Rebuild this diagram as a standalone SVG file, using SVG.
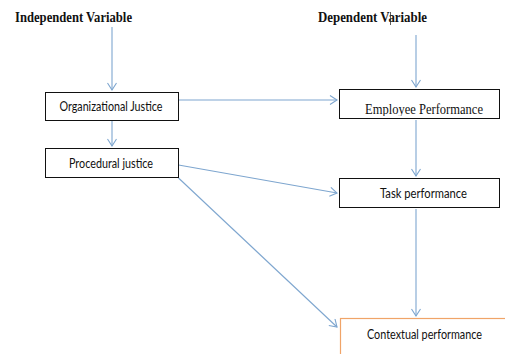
<svg xmlns="http://www.w3.org/2000/svg" width="505" height="354" viewBox="0 0 505 354">
  <defs>
    <marker id="arrow" viewBox="-8 -5 10 10" markerWidth="10" markerHeight="10" refX="0" refY="0" orient="auto" markerUnits="userSpaceOnUse">
      <path d="M-7,-4.5 L0,0 L-7,4.5" fill="none" stroke="#7ea6cf" stroke-width="1.1"/>
    </marker>
    <clipPath id="clipEmp">
      <rect x="339" y="89" width="166" height="27"/>
    </clipPath>
  </defs>
  <style>
    .head { font-family: "Liberation Serif", "Times New Roman", serif; font-weight: bold; font-size: 15px; fill: #111; }
    .box { fill: #fff; stroke: #111; stroke-width: 1; }
    .box-orange { fill: #fff; stroke: #f0a468; stroke-width: 1.2; }
    .lbl { font-family: Lato, "Open Sans", "Liberation Sans", sans-serif; font-size: 12.5px; fill: #111; text-anchor: middle; }
    .lbl-serif { font-family: "Liberation Serif", "Times New Roman", serif; font-size: 15px; fill: #111; text-anchor: middle; }
    .conn { stroke: #7ea6cf; stroke-width: 1.1; fill: none; marker-end: url(#arrow); }
  </style>
  <rect width="505" height="354" fill="#fff"/>

  <!-- column headings -->
  <g id="heading-independent">
    <text class="head" x="15" y="22" textLength="117" lengthAdjust="spacingAndGlyphs">Independent Variable</text>
  </g>
  <g id="heading-dependent">
    <text class="head" x="318" y="22" textLength="109" lengthAdjust="spacingAndGlyphs">Dependent Variable</text>
    <line x1="390.5" y1="12" x2="390.5" y2="25" stroke="#333" stroke-width="0.8"/>
  </g>

  <!-- connectors -->
  <g id="connectors">
    <line class="conn" x1="112" y1="27" x2="112" y2="90"/>
    <line class="conn" x1="416" y1="35" x2="416" y2="87"/>
    <line class="conn" x1="178.5" y1="100" x2="337" y2="100"/>
    <line class="conn" x1="112" y1="121" x2="112" y2="146"/>
    <line class="conn" x1="416" y1="120" x2="416" y2="176"/>
    <line class="conn" x1="178.5" y1="165" x2="337" y2="193"/>
    <line class="conn" x1="178.5" y1="178" x2="337" y2="327"/>
    <line class="conn" x1="416" y1="209" x2="416" y2="316"/>
  </g>

  <!-- nodes -->
  <g id="node-organizational-justice">
    <rect class="box" x="45.5" y="92.5" width="133" height="28"/>
    <text class="lbl" x="111" y="111" textLength="103" lengthAdjust="spacingAndGlyphs">Organizational Justice</text>
  </g>
  <g id="node-procedural-justice">
    <rect class="box" x="45.5" y="148.5" width="133" height="29"/>
    <text class="lbl" x="111" y="167.5" textLength="84" lengthAdjust="spacingAndGlyphs">Procedural justice</text>
  </g>
  <g id="node-employee-performance">
    <rect class="box" x="339.5" y="89.5" width="160" height="29"/>
    <text class="lbl-serif" x="424" y="113.5" textLength="118" lengthAdjust="spacingAndGlyphs" clip-path="url(#clipEmp)">Employee Performance</text>
  </g>
  <g id="node-task-performance">
    <rect class="box" x="339.5" y="178.5" width="160" height="29"/>
    <text class="lbl" x="423.5" y="197.5" textLength="87" lengthAdjust="spacingAndGlyphs">Task performance</text>
  </g>
  <g id="node-contextual-performance">
    <rect class="box-orange" x="340.5" y="318.5" width="170" height="45"/>
    <text class="lbl" x="424.5" y="339" textLength="115" lengthAdjust="spacingAndGlyphs">Contextual performance</text>
  </g>
</svg>
